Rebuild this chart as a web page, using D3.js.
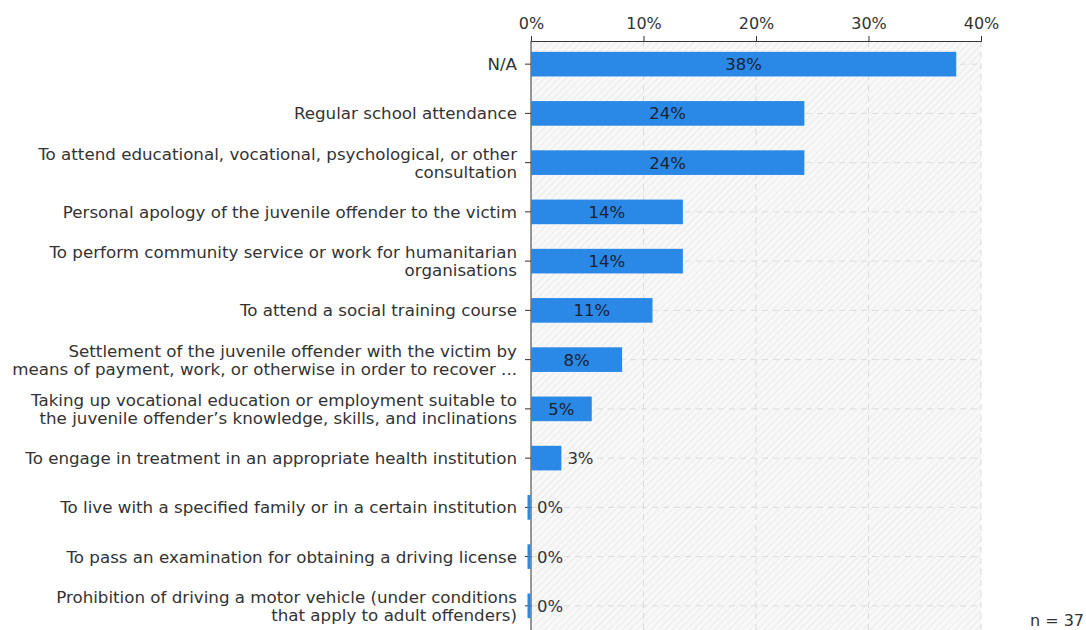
<!DOCTYPE html>
<html lang="en">
<head>
  <meta charset="UTF-8">
  <title>Conditions imposed on juvenile offenders</title>
  <script src="https://d3js.org/d3.v7.min.js"></script>
  <style>
    body {
      margin: 0;
      background: #fff;
      font-family: "DejaVu Sans", Verdana, sans-serif;
    }
    .cat-label {
      font-size: 16.7px;
      fill: #333;
    }
    .axis text {
      font-size: 16px;
      fill: #333;
      font-family: "DejaVu Sans", Verdana, sans-serif;
    }
    .axis line,
    .axis path {
      stroke: #333;
    }
    .grid line {
      stroke: #dcdcdc;
      stroke-dasharray: 6 5;
    }
    .bar {
      fill: #2a88e6;
    }
    .val {
      font-size: 16.5px;
    }
  </style>
</head>
<body>
  <svg id="chart" width="1086" height="630"></svg>

  <script>
    // categories (line breaks as in the picture)
    const categories = [
      "N/A",
      "Regular school attendance",
      "To attend educational, vocational, psychological, or other\nconsultation",
      "Personal apology of the juvenile offender to the victim",
      "To perform community service or work for humanitarian\norganisations",
      "To attend a social training course",
      "Settlement of the juvenile offender with the victim by\nmeans of payment, work, or otherwise in order to recover ...",
      "Taking up vocational education or employment suitable to\nthe juvenile offender\u2019s knowledge, skills, and inclinations",
      "To engage in treatment in an appropriate health institution",
      "To live with a specified family or in a certain institution",
      "To pass an examination for obtaining a driving license",
      "Prohibition of driving a motor vehicle (under conditions\nthat apply to adult offenders)"
    ];

    // share of respondents, in percent
    const values = [37.8, 24.3, 24.3, 13.5, 13.5, 10.8, 8.1, 5.4, 2.7, 0, 0, 0];

    const xTicks = [0, 10, 20, 30, 40];
    const sampleNote = "n = 37";

    const plotLeft = 531, plotRight = 981, plotTop = 41, plotBottom = 630;

    const svg = d3.select("#chart");

    const x = d3.scaleLinear()
      .domain([0, 40])
      .range([plotLeft, plotRight]);

    const y = d3.scaleBand()
      .domain(categories)
      .range([plotTop, 629])
      .paddingInner(0.5)
      .paddingOuter(0.22);

    // hatched plot background
    const defs = svg.append("defs");
    const pat = defs.append("pattern")
      .attr("id", "hatch")
      .attr("patternUnits", "userSpaceOnUse")
      .attr("width", 5)
      .attr("height", 5)
      .attr("patternTransform", "rotate(45)");
    pat.append("rect")
      .attr("width", 5).attr("height", 5)
      .attr("fill", "#f8f8f8");
    pat.append("line")
      .attr("x1", 0).attr("y1", 0).attr("x2", 0).attr("y2", 5)
      .attr("stroke", "#ebebeb")
      .attr("stroke-width", 2);

    svg.append("rect")
      .attr("x", plotLeft)
      .attr("y", plotTop)
      .attr("width", plotRight - plotLeft)
      .attr("height", plotBottom - plotTop)
      .attr("fill", "url(#hatch)");

    // grid lines
    const grid = svg.append("g").attr("class", "grid");
    grid.selectAll(".vg")
      .data(xTicks.slice(1))
      .enter().append("line")
      .attr("x1", d => x(d)).attr("x2", d => x(d))
      .attr("y1", plotTop).attr("y2", plotBottom);
    grid.selectAll(".hg")
      .data(categories)
      .enter().append("line")
      .attr("x1", plotLeft).attr("x2", plotRight)
      .attr("y1", d => y(d) + y.bandwidth() / 2)
      .attr("y2", d => y(d) + y.bandwidth() / 2);

    // top axis
    svg.append("g")
      .attr("class", "axis")
      .attr("transform", `translate(0,${plotTop})`)
      .call(d3.axisTop(x).tickValues(xTicks).tickFormat(d => d + "%").tickSize(5).tickSizeOuter(5))
      .call(g => g.selectAll("text").attr("dy", "-0.25em"));

    // left axis (category labels drawn separately for line breaks)
    const yAxis = svg.append("g")
      .attr("class", "axis")
      .attr("transform", `translate(${plotLeft},0)`)
      .call(d3.axisLeft(y).tickSize(6).tickSizeOuter(0).tickFormat(""));
    yAxis.select(".domain").attr("d", `M0,${plotTop}V${plotBottom}`);

    // bars
    svg.selectAll(".bar")
      .data(values)
      .enter().append("rect")
      .attr("class", "bar")
      .attr("x", d => d > 0 ? x(0) : x(0) - 3.5)
      .attr("y", (d, i) => y(categories[i]))
      .attr("height", y.bandwidth())
      .attr("width", d => d > 0 ? x(d) - x(0) : 3);

    // value labels
    svg.selectAll(".val")
      .data(values)
      .enter().append("text")
      .attr("class", "val")
      .attr("x", d => (x(d) - x(0) > 40) ? (x(0) + x(d)) / 2 : x(d) + 6)
      .attr("y", (d, i) => y(categories[i]) + y.bandwidth() / 2)
      .attr("dy", "0.36em")
      .attr("text-anchor", d => (x(d) - x(0) > 40) ? "middle" : "start")
      .attr("fill", d => (x(d) - x(0) > 40) ? "#1b2333" : "#333")
      .text(d => Math.round(d) + "%");

    const labels = svg.append("g");
    categories.forEach(c => {
      const lines = c.split("\n");
      const cy = y(c) + y.bandwidth() / 2;
      const t = labels.append("text")
        .attr("class", "cat-label")
        .attr("text-anchor", "end")
        .attr("x", plotLeft - 14)
        .attr("y", cy - (lines.length - 1) * 9);
      lines.forEach((ln, k) => {
        t.append("tspan")
          .attr("x", plotLeft - 14)
          .attr("dy", k === 0 ? "0.36em" : "18")
          .text(ln);
      });
    });

    svg.append("text")
      .attr("x", 1084)
      .attr("y", 626)
      .attr("text-anchor", "end")
      .attr("font-size", 16)
      .attr("fill", "#333")
      .text(sampleNote);
  </script>
</body>
</html>
